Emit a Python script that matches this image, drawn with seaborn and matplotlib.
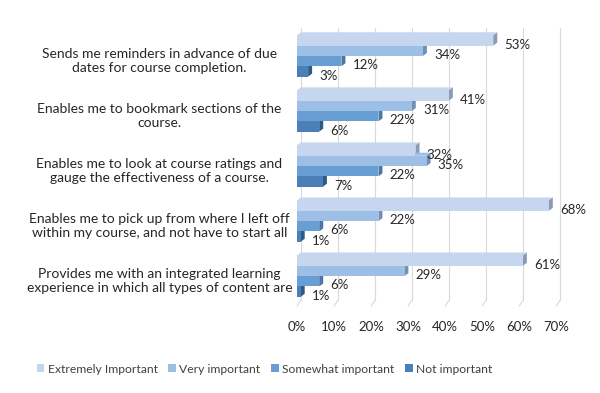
import numpy as np
import pandas as pd
import matplotlib
matplotlib.use("Agg")
import matplotlib.pyplot as plt
from matplotlib.patches import Polygon
import matplotlib.transforms as mtransforms
import seaborn as sns

# données
categories = [
    "Sends me reminders in advance of due\ndates for course completion.",
    "Enables me to bookmark sections of the\ncourse.",
    "Enables me to look at course ratings and\ngauge the effectiveness of a course.",
    "Enables me to pick up from where I left off\nwithin my course, and not have to start all",
    "Provides me with an integrated learning\nexperience in which all types of content are",
]
levels = ["Extremely Important", "Very important", "Somewhat important", "Not important"]
extremely = [53, 41, 32, 68, 61]
very = [34, 31, 35, 22, 29]
somewhat = [12, 22, 22, 6, 6]
not_important = [3, 6, 7, 1, 1]
x_ticks = [0, 10, 20, 30, 40, 50, 60, 70]

colors = ["#C6D6EE", "#9DBEE5", "#679ED3", "#4A80B7"]
side_colors = ["#8A9BB3", "#7090B5", "#4A78A6", "#2F5986"]
text_color = "#262626"

rows = []
for level, vals in zip(levels, [extremely, very, somewhat, not_important]):
    for cat, v in zip(categories, vals):
        rows.append({"category": cat, "level": level, "value": v / 100})
df = pd.DataFrame(rows)

sns.set_style("white")
plt.rcParams["font.family"] = ["Lato", "DejaVu Sans"]

fig = plt.figure(figsize=(6.0, 3.93), dpi=100)
ax = fig.add_axes([0.495, 0.221, 0.432, 0.708])

sns.barplot(data=df, x="value", y="category", hue="level", orient="h",
            palette=colors, width=0.75, saturation=1, ax=ax, legend=False,
            linewidth=0, zorder=3)

ax.set_xlim(0, 0.70)
ax.set_ylim(4.545, -0.509)

# profondeur 3D (en unités de données)
dx = 4 * 0.70 / 259
dy = 3 * 5 / 275
n_cat = len(categories)
for i, p in enumerate(ax.patches):
    level_idx = i // n_cat
    x0, y0, w, h = p.get_x(), p.get_y(), p.get_width(), p.get_height()
    side = Polygon([(x0 + w, y0), (x0 + w + dx, y0 - dy),
                    (x0 + w + dx, y0 + h - dy), (x0 + w, y0 + h)],
                   closed=True, facecolor=side_colors[level_idx],
                   edgecolor="none", zorder=2)
    top = Polygon([(x0, y0), (x0 + w, y0), (x0 + w + dx, y0 - dy), (x0 + dx, y0 - dy)],
                  closed=True, facecolor=colors[level_idx], edgecolor="none", zorder=2)
    ax.add_patch(top)
    ax.add_patch(side)
    ax.annotate(f"{round(w * 100)}%", xy=(x0 + w, y0 + h / 2), xytext=(8, -3),
                textcoords="offset points", ha="left", va="center",
                fontsize=9.5, color=text_color, annotation_clip=False, zorder=5)

# grille avec petit pied en perspective
ticks = np.array(x_ticks) / 100
trans = ax.get_xaxis_transform()
for t in ticks:
    ax.plot([t + dx, t + dx], [0.022, 1.0], color="#D9D9D9", lw=0.8,
            transform=trans, zorder=1, clip_on=False)
    ax.plot([t + dx, t], [0.022, 0.0], color="#D9D9D9", lw=0.8,
            transform=trans, zorder=1, clip_on=False)

ax.set_xticks(ticks)
ax.set_xticklabels([f"{v}%" for v in x_ticks], fontsize=9.5, color=text_color)
ax.tick_params(axis="x", length=0, pad=11)
ax.tick_params(axis="y", length=0, pad=99)
shift = mtransforms.ScaledTranslation(0, -3 / 100, fig.dpi_scale_trans)
for lab in ax.get_yticklabels():
    lab.set_ha("center")
    lab.set_fontsize(10)
    lab.set_color(text_color)
    lab.set_transform(lab.get_transform() + shift)
ax.set_xlabel("")
ax.set_ylabel("")
sns.despine(ax=ax, left=True, bottom=True)

handles = [plt.Rectangle((0, 0), 1, 1, facecolor=c, edgecolor="none") for c in colors]
fig.legend(handles, levels, loc="center", bbox_to_anchor=(0.441, 0.061), ncol=4,
           frameon=False, fontsize=8.7, handlelength=0.6, handleheight=0.6,
           handletextpad=0.3, columnspacing=0.9, labelcolor="#404040")

fig.savefig("out.png", dpi=100)
